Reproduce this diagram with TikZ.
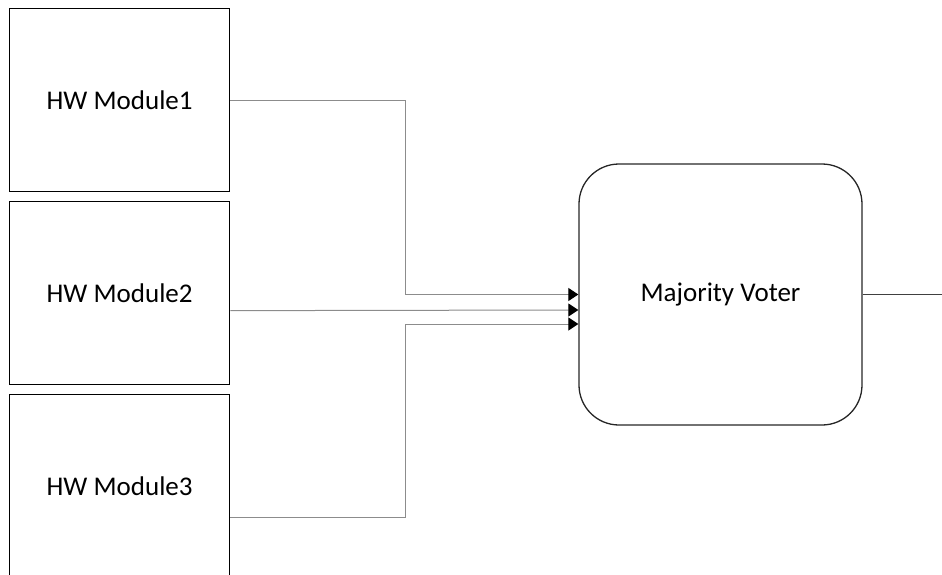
\documentclass[tikz,border=0pt]{standalone}
\usepackage{fontspec}
\setmainfont{Carlito}
\usetikzlibrary{arrows.meta}
\begin{document}
\begin{tikzpicture}[x=1pt,y=-1pt,
  module/.style={draw=black, line width=1.3pt, fill=white, anchor=north west,
    minimum width=220pt, minimum height=183pt, inner sep=0pt,
    font=\fontsize{27}{32}\selectfont},
  voter/.style={draw=black!85, line width=1.3pt, rounded corners=40pt,
    minimum width=283pt, minimum height=261pt, inner sep=0pt,
    font=\fontsize{27}{32}\selectfont},
  wire/.style={draw=black!45, line width=1pt},
  tip/.style={-{Triangle[length=10pt,width=13pt,color=black]}}]
\useasboundingbox (0,0) rectangle (942,574);
\begin{scope}
\clip (0,0) rectangle (942,574);
% the three redundant modules
\node[module] (m1) at (9,8)   {HW Module1};
\node[module] (m2) at (9,201) {HW Module2};
\node[module] (m3) at (9,394) {HW Module3};
% voter
\node[voter] (v) at (720.5,294.5) {Majority Voter};
% inputs to the voter
\draw[wire,tip] (m1.east) -- ++(175,0) |- (v.west);
\draw[wire,tip] ([yshift=-17.5pt]m2.east) -- ([yshift=-15.5pt]v.west);
\draw[wire,tip] ([yshift=-31.5pt]m3.east) -- ++(175,0) |- ([yshift=-29.5pt]v.west);
% output
\coordinate (out) at (942,294.5);
\draw[wire, draw=black!75] (v.east) -- (out);
\end{scope}
\end{tikzpicture}
\end{document}
